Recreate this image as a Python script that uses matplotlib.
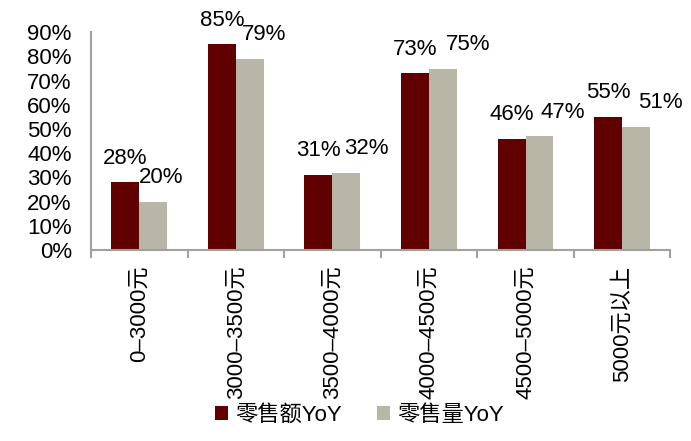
import matplotlib.pyplot as plt
import numpy as np

plt.rcParams['font.family'] = ['Liberation Sans', 'Noto Sans CJK SC', 'DejaVu Sans']

cats = ['0–3000元', '3000–3500元', '3500–4000元', '4000–4500元', '4500–5000元', '5000元以上']
sales_amt = [28, 85, 31, 73, 46, 55]
sales_vol = [20, 79, 32, 75, 47, 51]

c_amt = '#600000'
c_vol = '#B8B6A6'
fs = 16

# label nudges (x, in category units) for the grey bar labels
vol_dx = [0.08, 0.15, 0.21, 0.26, 0.24, 0.25]

fig = plt.figure(figsize=(6.91, 4.41), dpi=100)
ax = fig.add_axes([0.132, 0.433, 0.838, 0.494])

x = np.arange(len(cats))
w = 0.29
b1 = ax.bar(x - w / 2, sales_amt, w, color=c_amt, label='零售额YoY')
b2 = ax.bar(x + w / 2, sales_vol, w, color=c_vol, label='零售量YoY')

for xi, v in zip(x, sales_amt):
    ax.text(xi - w / 2, v + 10, f'{v}%', ha='center', va='center', fontsize=fs)
for xi, v, dx in zip(x, sales_vol, vol_dx):
    ax.text(xi + w / 2 + dx, v + 10, f'{v}%', ha='center', va='center', fontsize=fs)

ax.set_xlim(-0.5, len(cats) - 0.5)
ax.set_ylim(0, 90)
ax.set_yticks(range(0, 91, 10))
ax.set_yticklabels([f'{v}%' for v in range(0, 91, 10)], fontsize=fs)
ax.tick_params(axis='y', length=0, pad=14)

ax.set_xticks(x)
ax.set_xticklabels(cats, rotation=90, fontsize=fs)
ax.tick_params(axis='x', length=0, pad=11)
ax.set_xticks(np.arange(-0.5, len(cats), 1), minor=True)
ax.tick_params(axis='x', which='minor', length=6, width=1.5, color='#A0A0A0')

for s in ['top', 'right']:
    ax.spines[s].set_visible(False)
for s in ['left', 'bottom']:
    ax.spines[s].set_color('#A0A0A0')
    ax.spines[s].set_linewidth(1.5)

fig.legend(handles=[b1, b2], loc='center', bbox_to_anchor=(0.52, 0.058), ncol=2,
           frameon=False, fontsize=fs, handlelength=0.6, handleheight=0.6,
           handletextpad=0.3, columnspacing=1.6)

fig.savefig('out.png', dpi=100)
